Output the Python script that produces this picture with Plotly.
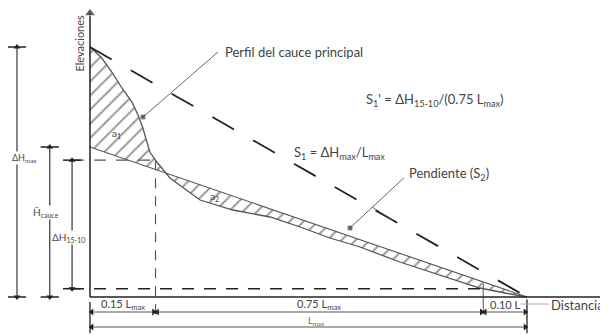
import numpy as np
import plotly.graph_objects as go

# perfil del cauce principal: distancia (fraccion de L_max) y elevacion (fraccion de dH_max)
dist_perfil = [0.0, 0.027, 0.050, 0.073, 0.096, 0.110, 0.121, 0.130, 0.137, 0.153, 0.183,
               0.252, 0.327, 0.412, 0.481, 0.549, 0.618, 0.709, 0.801, 0.892, 0.950, 1.0]
elev_perfil = [1.0, 0.956, 0.900, 0.836, 0.780, 0.728, 0.676, 0.620, 0.580, 0.540, 0.476,
               0.388, 0.348, 0.320, 0.280, 0.236, 0.200, 0.140, 0.088, 0.036, 0.016, 0.0]

# tramos de la longitud del cauce
tramos = [0.15, 0.75, 0.10]
tramo_labels = ["0.15 L<sub>max</sub>", "0.75 L<sub>max</sub>", "0.10 L"]

# ordenada al origen de la recta de pendiente S2 (altura media)
h_media = 0.60

negro = "#222222"
gris = "#555555"
fuente = "Lato"

px = np.array(dist_perfil)
py = np.array(elev_perfil)
x15 = tramos[0]
x90 = tramos[0] + tramos[1]
y15 = float(np.interp(x15, px, py))
y90 = float(np.interp(x90, px, py))

# cruce del perfil con la recta S2
s2 = h_media * (1 - px)
d = py - s2
k = int(np.where(d < 0)[0][0])
t = d[k - 1] / (d[k - 1] - d[k])
xc = px[k - 1] + t * (px[k] - px[k - 1])
yc = h_media * (1 - xc)

fig = go.Figure()

patron = dict(shape="/", fgcolor="#333333", bgcolor="white", size=10, solidity=0.2)

# area a1
fig.add_trace(go.Scatter(
    x=[0] + list(px[:k]) + [xc, 0], y=[h_media] + list(py[:k]) + [yc, h_media],
    fill="toself", fillpattern=patron, fillcolor="white", mode="lines",
    line=dict(width=0), hoverinfo="skip"))
# area a2
fig.add_trace(go.Scatter(
    x=[xc] + list(px[k:]) + [xc], y=[yc] + list(py[k:]) + [yc],
    fill="toself", fillpattern=patron, fillcolor="white", mode="lines",
    line=dict(width=0), hoverinfo="skip"))

# perfil y rectas
fig.add_trace(go.Scatter(x=px, y=py, mode="lines", line=dict(color=gris, width=1.3)))
fig.add_trace(go.Scatter(x=[0, 1], y=[h_media, 0], mode="lines", line=dict(color=gris, width=1.1)))
fig.add_trace(go.Scatter(x=[0, 1], y=[1, 0], mode="lines",
                         line=dict(color=negro, width=1.8, dash="25px,22px")))

# lineas auxiliares punteadas
fig.add_trace(go.Scatter(x=[-0.041, x15], y=[y15, y15], mode="lines",
                         line=dict(color=gris, width=1.2, dash="12px,10px")))
fig.add_trace(go.Scatter(x=[-0.041, x90], y=[y90, y90], mode="lines",
                         line=dict(color=negro, width=1.6, dash="12px,10px")))
fig.add_trace(go.Scatter(x=[x15, x15], y=[y15, -0.07], mode="lines",
                         line=dict(color=gris, width=1.2, dash="10px,8px")))
fig.add_trace(go.Scatter(x=[x90, x90], y=[y90 + 0.02, -0.07], mode="lines",
                         line=dict(color=gris, width=1.0)))

# ejes
fig.add_trace(go.Scatter(x=[0, 0], y=[0, 1.135], mode="lines+markers",
                         line=dict(color=negro, width=1.5),
                         marker=dict(symbol=["circle", "triangle-up"], size=[0, 10], color=negro)))
fig.add_trace(go.Scatter(x=[0, 1.19], y=[0, 0], mode="lines", line=dict(color=negro, width=1.6)))


def cota_v(x, y0, y1):
    fig.add_trace(go.Scatter(x=[x, x], y=[y0, y1], mode="lines+markers",
                             line=dict(color=negro, width=1.1),
                             marker=dict(symbol=["triangle-down", "triangle-up"], size=6, color=negro)))
    fig.add_trace(go.Scatter(x=[x, x], y=[y0, y1], mode="markers",
                             marker=dict(symbol="line-ew", size=13, line=dict(color=negro, width=1.5))))


def cota_h(y, x0, x1):
    fig.add_trace(go.Scatter(x=[x0, x1], y=[y, y], mode="lines+markers",
                             line=dict(color=gris, width=1.0),
                             marker=dict(symbol=["triangle-left", "triangle-right"], size=6, color=negro)))


# cotas verticales
cota_v(-0.167, 0, 1)
cota_v(-0.092, 0, h_media)
cota_v(-0.041, y90, y15)

# cotas horizontales
x_lim = np.concatenate([[0], np.cumsum(tramos)])
for a, b in zip(x_lim[:-1], x_lim[1:]):
    cota_h(-0.06, a + 0.004, b - 0.004)
cota_h(-0.12, 0.004, 1 - 0.004)
for xv, (y0, y1) in zip([0, 1], [(-0.02, -0.145), (-0.01, -0.145)]):
    fig.add_trace(go.Scatter(x=[xv, xv], y=[y0, y1], mode="lines", line=dict(color=negro, width=1.3)))
fig.add_trace(go.Scatter(x=[0.985, 1.05], y=[-0.028, -0.028], mode="lines", line=dict(color="#aaaaaa", width=1)))

# lineas de llamada
fig.add_trace(go.Scatter(x=[0.1213, 0.293], y=[0.72, 0.98], mode="lines+markers",
                         line=dict(color=gris, width=0.9),
                         marker=dict(symbol="square", size=[4, 0], color=negro)))
fig.add_trace(go.Scatter(x=[0.595, 0.718], y=[0.276, 0.476], mode="lines+markers",
                         line=dict(color=gris, width=0.9),
                         marker=dict(symbol="square", size=[4, 0], color=negro)))
fig.add_trace(go.Scatter(x=[0.645, 0.693], y=[0.36, 0.308], mode="lines",
                         line=dict(color=gris, width=0.9)))

txt = dict(family=fuente, size=10, color="#444444")
grande = dict(family=fuente, size=13, color="#444444")
cota = dict(family=fuente, size=11, color="#444444")
anots = [
    dict(x=0.3066, y=0.98, text="Perfil del cauce principal", xanchor="left", font=grande),
    dict(x=0.629, y=0.788, text="S<sub>1</sub>' = ΔH<sub>15-10</sub>/(0.75 L<sub>max</sub>)",
         xanchor="left", font=grande),
    dict(x=0.4645, y=0.576, text="S<sub>1</sub> = ΔH<sub>max</sub>/L<sub>max</sub>", xanchor="left", font=grande),
    dict(x=0.7277, y=0.492, text="Pendiente (S<sub>2</sub>)", xanchor="left", font=grande),
    dict(x=1.0526, y=-0.032, text="Distancia", xanchor="left", font=grande),
    dict(x=-0.026, y=1.016, text="Elevaciones", textangle=-90, font=dict(family=fuente, size=11, color="#444444")),
    dict(x=0.06, y=0.656, text="a<sub>1</sub>", font=txt),
    dict(x=0.286, y=0.404, text="a<sub>2</sub>", font=txt),
    dict(x=-0.18, y=0.556, text="ΔH<sub>max</sub>", xanchor="left", bgcolor="white",
         font=dict(family=fuente, size=9, color="#444444")),
    dict(x=-0.1, y=0.34, text="H̄<sub>cauce</sub>", bgcolor="white"),
    dict(x=-0.050, y=0.24, text="ΔH<sub>15-10</sub>", bgcolor="white"),
    dict(x=0.519, y=-0.094, text="L<sub>max</sub>", font=dict(family=fuente, size=9, color="#666666")),
]
for xm, lab in zip((x_lim[:-1] + x_lim[1:]) / 2, tramo_labels):
    anots.append(dict(x=xm, y=-0.028, text=lab, font=cota))
for a in anots:
    a.setdefault("font", txt)
    a.update(xref="x", yref="y", showarrow=False, borderpad=0)
fig.update_layout(annotations=anots)

# la pagina deja 8 px de margen: figura de 600x327 y rangos ajustados
fig.update_layout(
    width=600, height=327, margin=dict(l=0, r=0, t=0, b=0),
    paper_bgcolor="white", plot_bgcolor="white", showlegend=False,
    xaxis=dict(range=[-0.1876, 1.1854], visible=False),
    yaxis=dict(range=[-0.152, 1.156], visible=False),
)
fig.write_html("out.html")
